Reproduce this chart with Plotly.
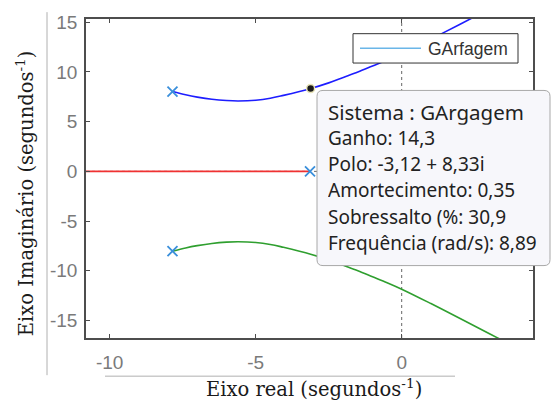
import plotly.graph_objects as go

# Root locus of the pitch ("GArfagem") system
# open-loop poles
poles_re = [-7.85, -7.85, -3.14]
poles_im = [8.03, -8.03, 0.0]

# upper complex branch
blue_re = [-7.85, -7.4, -7.0, -6.5, -6.0, -5.6, -5.0, -4.5, -4.05, -3.5, -3.12, -2.5, -2.0, -1.5, -1.0, -0.5, 0.0, 1.0, 2.0, 3.25, 4.6]
blue_im = [8.03, 7.7, 7.47, 7.25, 7.12, 7.08, 7.15, 7.35, 7.64, 8.03, 8.33, 8.9, 9.45, 10.0, 10.6, 11.2, 11.85, 13.3, 14.8, 16.7, 18.7]

# lower complex branch
green_re = blue_re
green_im = [-v for v in blue_im]

# real-axis branch
red_re = [-3.14, -12.0]
red_im = [0.0, 0.0]

# selected closed-loop pole and its data
ganho = 14.3
polo_re, polo_im = -3.12, 8.33
amortecimento = 0.35
sobressalto = 30.9
frequencia = 8.89

x_ticks = [-10, -5, 0]
y_ticks = [-15, -10, -5, 0, 5, 10, 15]

W, H = 551, 411
ML, MR, MT, MB = 86, 18, 12, 73
PW, PH = W - ML - MR, H - MT - MB


def px(xp):
    return (xp - ML) / PW


def py(yp):
    return (H - MB - yp) / PH


def br(v, nd):
    return f"{v:.{nd}f}".replace(".", ",")


fig = go.Figure()

axis_col = "#4d4d4d"

fig.add_trace(go.Scatter(x=red_re, y=red_im, mode="lines",
                         line=dict(color="#f03232", width=1.6), showlegend=False))
fig.add_trace(go.Scatter(x=blue_re, y=blue_im, mode="lines",
                         line=dict(color="#1d1dff", width=1.6, shape="spline"), showlegend=False))
fig.add_trace(go.Scatter(x=green_re, y=green_im, mode="lines",
                         line=dict(color="#2f9f2f", width=1.6, shape="spline"), showlegend=False))
fig.add_trace(go.Scatter(x=poles_re, y=poles_im, mode="markers", name="GArfagem",
                         marker=dict(symbol="x-thin", size=10, color="#3a8fdb",
                                     line=dict(color="#3a8fdb", width=1.8)),
                         showlegend=False))
fig.add_trace(go.Scatter(x=[polo_re], y=[polo_im], mode="markers",
                         marker=dict(size=8, color="#1a1a1a",
                                     line=dict(color="#e8e4b8", width=1.5)),
                         showlegend=False))

shapes = []
annotations = []

# reference lines through the origin
shapes.append(dict(type="line", xref="x", yref="paper", x0=0, x1=0, y0=0, y1=1,
                   line=dict(color="#666666", width=1, dash="dot"), layer="below"))
shapes.append(dict(type="line", xref="paper", yref="y", x0=0, x1=1, y0=0, y1=0,
                   line=dict(color="#666666", width=1, dash="dot"), layer="below"))

# legend box
shapes.append(dict(type="rect", xref="paper", yref="paper",
                   x0=px(353), x1=px(518), y0=py(57), y1=py(27),
                   fillcolor="white", line=dict(color="#333333", width=1)))
shapes.append(dict(type="line", xref="paper", yref="paper",
                   x0=px(360), x1=px(421), y0=py(42), y1=py(42),
                   line=dict(color="#6ab6e8", width=1.5)))
annotations.append(dict(text="GArfagem", xref="paper", yref="paper",
                        x=px(426), y=py(42.5), xanchor="left", yanchor="middle",
                        showarrow=False,
                        font=dict(family="Liberation Sans", size=17.5, color="#333333")))

# data tip box with rounded corners
x0, x1, y0, y1 = px(317), px(550), py(264), py(85)
rx, ry = 6 / PW, 6 / PH
path = (f"M {x0+rx},{y0} L {x1-rx},{y0} Q {x1},{y0} {x1},{y0+ry} "
        f"L {x1},{y1-ry} Q {x1},{y1} {x1-rx},{y1} "
        f"L {x0+rx},{y1} Q {x0},{y1} {x0},{y1-ry} "
        f"L {x0},{y0+ry} Q {x0},{y0} {x0+rx},{y0} Z")
shapes.append(dict(type="path", xref="paper", yref="paper", path=path,
                   fillcolor="#f7f7fb", line=dict(color="#a8a8a8", width=1)))

tip_lines = [
    ("Sistema : GArgagem", 20.5, 107),
    (f"Ganho: {br(ganho, 1)}", 19, 134),
    (f"Polo: {br(polo_re, 2)} + {br(polo_im, 2)}i", 19, 160.5),
    (f"Amortecimento: {br(amortecimento, 2)}", 19, 187),
    (f"Sobressalto (%: {br(sobressalto, 1)}", 19, 214),
    (f"Frequência (rad/s): {br(frequencia, 2)}", 19, 241),
]
for txt, fs, yp in tip_lines:
    annotations.append(dict(text=txt, xref="paper", yref="paper",
                            x=px(326), y=py(yp), xanchor="left", yanchor="middle",
                            showarrow=False, height=fs * 1.25,
                            font=dict(family="Noto Sans", size=fs, color="#222222")))

# axis titles
annotations.append(dict(text="Eixo real (segundos<sup>-1</sup>)", xref="paper", yref="paper",
                        x=px(313.5), y=py(389), xanchor="center", yanchor="middle",
                        showarrow=False,
                        font=dict(family="DejaVu Serif", size=19.5, color="#1a1a1a")))
annotations.append(dict(text="Eixo Imaginário (segundos<sup>-1</sup>)", xref="paper", yref="paper",
                        x=px(25), y=py(190), xanchor="center", yanchor="middle",
                        textangle=-90, showarrow=False,
                        font=dict(family="DejaVu Serif", size=19.5, color="#1a1a1a")))

# outer frame lines
shapes.append(dict(type="line", xref="paper", yref="paper",
                   x0=px(47), x1=px(47), y0=py(5), y1=py(376),
                   line=dict(color="#b0b0b0", width=1)))
shapes.append(dict(type="line", xref="paper", yref="paper",
                   x0=px(105), x1=px(455), y0=py(377), y1=py(377),
                   line=dict(color="#b0b0b0", width=1)))

fig.update_layout(
    width=W, height=H,
    margin=dict(l=ML, r=MR, t=MT, b=MB),
    paper_bgcolor="white", plot_bgcolor="white",
    shapes=shapes, annotations=annotations,
    showlegend=False,
)

x_lo = (ML - 401.7) / 29.2
x_hi = (ML + PW - 401.7) / 29.2
y_hi = (167.7 - MT) / 10.16
y_lo = -(MT + PH - 167.7) / 10.16

tick_font = dict(family="Liberation Sans", size=19, color="#7a7a7a")
fig.update_xaxes(range=[x_lo, x_hi], tickvals=x_ticks, ticktext=[str(v) for v in x_ticks],
                 showgrid=False, zeroline=False, showline=True, linecolor=axis_col, linewidth=1.5,
                 mirror="allticks", ticks="inside", ticklen=4, tickcolor=axis_col, tickwidth=1,
                 tickfont=tick_font, ticklabelstandoff=6)
fig.update_yaxes(range=[y_lo, y_hi], tickvals=y_ticks, ticktext=[str(v) for v in y_ticks],
                 showgrid=False, zeroline=False, showline=True, linecolor=axis_col, linewidth=1.5,
                 mirror="allticks", ticks="inside", ticklen=4, tickcolor=axis_col, tickwidth=1,
                 tickfont=tick_font, ticklabelstandoff=3)

fig.write_html("out.html")
